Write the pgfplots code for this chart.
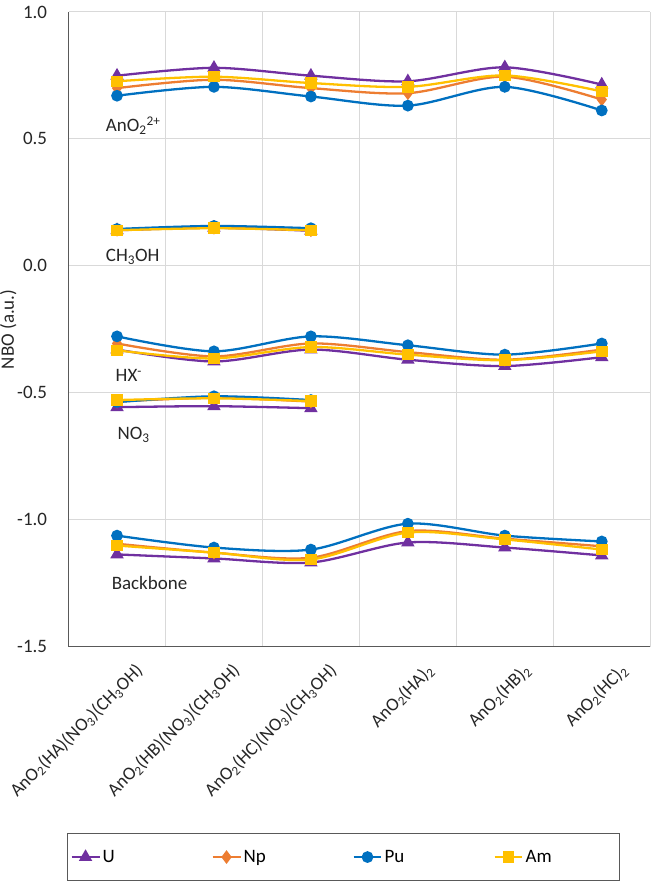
\documentclass[border=0pt]{standalone}
\usepackage{fontspec}
\setmainfont{Carlito}
\usepackage{pgfplots}
\usepackage{pgfplotstable}
\pgfplotsset{compat=1.18}

\definecolor{cU}{HTML}{7030A0}
\definecolor{cNp}{HTML}{ED7D31}
\definecolor{cPu}{HTML}{0070C0}
\definecolor{cAm}{HTML}{FFC000}
\definecolor{axgray}{HTML}{595959}
\definecolor{grd}{HTML}{D9D9D9}

\newcommand\f{\fontsize{19}{22}\selectfont}

% one table per group of bonds, columns = actinide
\pgfplotstableread{
x U Np Pu Am
0 0.749 0.700 0.670 0.727
1 0.780 0.733 0.705 0.745
2 0.749 0.700 0.667 0.720
3 0.727 0.680 0.631 0.705
4 0.782 0.745 0.705 0.750
5 0.714 0.655 0.612 0.687
}\tAn
\pgfplotstableread{
x U Np Pu Am
0 0.140 0.142 0.145 0.140
1 0.150 0.150 0.157 0.148
2 0.138 0.140 0.148 0.140
}\tMe
\pgfplotstableread{
x U Np Pu Am
0 -0.330 -0.306 -0.278 -0.333
1 -0.377 -0.357 -0.337 -0.365
2 -0.330 -0.306 -0.278 -0.320
3 -0.370 -0.340 -0.313 -0.350
4 -0.395 -0.370 -0.350 -0.372
5 -0.360 -0.330 -0.306 -0.337
}\tHX
\pgfplotstableread{
x U Np Pu Am
0 -0.557 -0.535 -0.537 -0.529
1 -0.553 -0.520 -0.514 -0.522
2 -0.561 -0.535 -0.529 -0.533
}\tNO
\pgfplotstableread{
x U Np Pu Am
0 -1.137 -1.095 -1.063 -1.102
1 -1.153 -1.130 -1.110 -1.130
2 -1.169 -1.150 -1.118 -1.157
3 -1.090 -1.045 -1.016 -1.051
4 -1.110 -1.075 -1.063 -1.078
5 -1.141 -1.105 -1.086 -1.118
}\tBB

\pgfplotsset{
  sU/.style={cU, line width=2.3pt, smooth, mark=triangle*, mark size=5.5pt},
  sNp/.style={cNp, line width=2.3pt, smooth, mark=diamond*, mark size=5pt},
  sPu/.style={cPu, line width=2.3pt, smooth, mark=*, mark size=4.7pt},
  sAm/.style={cAm, line width=2.3pt, smooth, mark=square*, mark size=4.6pt},
}
\newcommand\grp[1]{%
  \addplot[sU,forget plot] table[x=x,y=U]{#1};
  \addplot[sNp,forget plot] table[x=x,y=Np]{#1};
  \addplot[sPu,forget plot] table[x=x,y=Pu]{#1};
  \addplot[sAm,forget plot] table[x=x,y=Am]{#1};
}

\begin{document}
\begin{tikzpicture}
\begin{axis}[
  scale only axis, width=583pt, height=636pt,
  xmin=-0.5, xmax=5.5, ymin=-1.5, ymax=1.0,
  axis x line*=bottom, axis y line*=left,
  axis line style={axgray, line width=1.5pt, -},
  xtick={0,...,5},
  xticklabels={{AnO\textsubscript{2}(HA)(NO\textsubscript{3})(CH\textsubscript{3}OH)},
               {AnO\textsubscript{2}(HB)(NO\textsubscript{3})(CH\textsubscript{3}OH)},
               {AnO\textsubscript{2}(HC)(NO\textsubscript{3})(CH\textsubscript{3}OH)},
               {AnO\textsubscript{2}(HA)\textsubscript{2}},
               {AnO\textsubscript{2}(HB)\textsubscript{2}},
               {AnO\textsubscript{2}(HC)\textsubscript{2}}},
  minor xtick={-0.5,0.5,...,5.5}, xminorgrids=true,
  ytick={-1.5,-1,-0.5,0,0.5,1},
  yticklabels={-1.5,-1.0,-0.5,0.0,0.5,1.0},
  ymajorgrids=true,
  grid style={grd, line width=1pt},
  minor grid style={grd, line width=1pt},
  major tick length=0pt, minor tick length=0pt,
  tick label style={font=\f, text=black!85},
  yticklabel style={xshift=-18pt},
  xticklabel style={font=\fontsize{18.5}{22}\selectfont, xshift=23pt, yshift=-21pt, rotate=45, anchor=east, inner sep=0pt},
  ylabel={NBO (a.u.)},
  every axis y label/.style={at={(axis description cs:-0.094,0.5)}, rotate=90, anchor=base, inner sep=0pt, font=\f, text=black!85},
  legend columns=4,
  legend cell align=left,
  legend image code/.code={\draw[mark repeat=2,mark phase=2] plot coordinates {(0pt,0pt) (14pt,0pt) (28pt,0pt)};},
  legend style={at={(axis description cs:-0.003,-0.294)}, anchor=north west,
    draw=axgray, line width=1.3pt, font=\f, inner xsep=3pt, inner ysep=14.5pt},
]
\addlegendimage{sU}\addlegendentry{\makebox[107pt][l]{U}}
\addlegendimage{sNp}\addlegendentry{\makebox[107pt][l]{Np}}
\addlegendimage{sPu}\addlegendentry{\makebox[107pt][l]{Pu}}
\addlegendimage{sAm}\addlegendentry{\makebox[89pt][l]{Am}}

\grp{\tAn}
\grp{\tMe}
\grp{\tHX}
\grp{\tNO}
\grp{\tBB}

\node[anchor=base west, font=\f, text=black!85] at (axis cs:-0.15,0.529) {AnO\textsubscript{2}\textsuperscript{2+}};
\node[anchor=base west, font=\f, text=black!85] at (axis cs:-0.15,0.016) {CH\textsubscript{3}OH};
\node[anchor=base west, font=\f, text=black!85] at (axis cs:-0.05,-0.455) {HX\textsuperscript{-}};
\node[anchor=base west, font=\f, text=black!85] at (axis cs:-0.03,-0.686) {NO\textsubscript{3}};
\node[anchor=base west, font=\f, text=black!85] at (axis cs:-0.09,-1.275) {Backbone};
\end{axis}
\path (current axis.south west) ++(-68pt,-233pt) rectangle ++(653pt,881pt);
\end{tikzpicture}
\end{document}
